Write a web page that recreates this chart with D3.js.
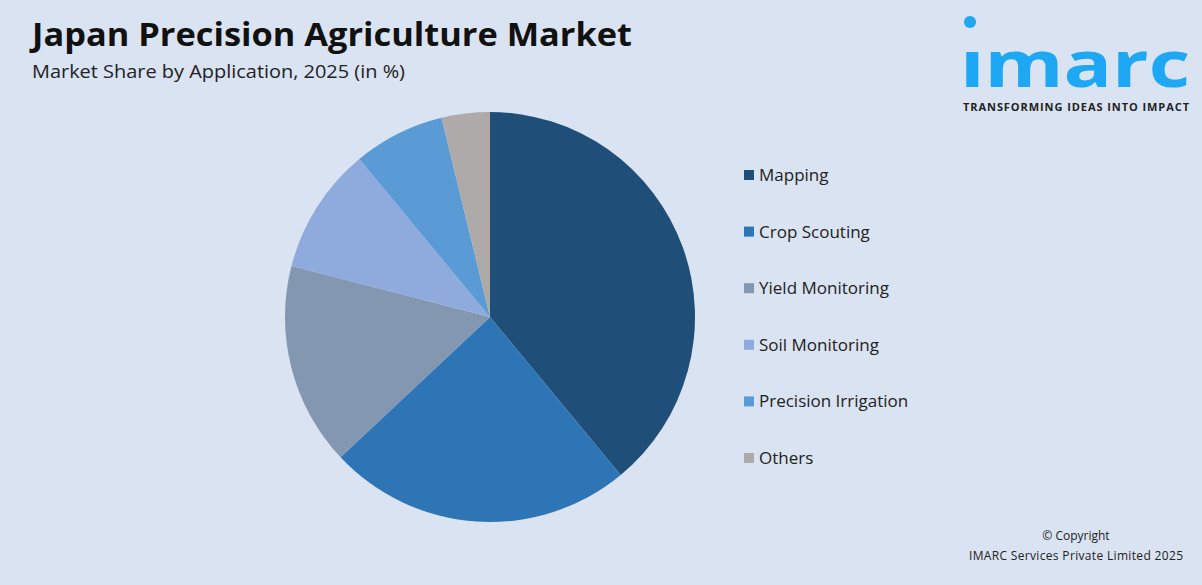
<!DOCTYPE html>
<html><head><meta charset="utf-8">
<script src="https://cdn.jsdelivr.net/npm/d3@7"></script>
<style>body{margin:0;background:#dae3f1;font-family:"Open Sans",sans-serif;}</style>
</head><body>
<script>
var categories = ['Mapping', 'Crop Scouting', 'Yield Monitoring', 'Soil Monitoring', 'Precision Irrigation', 'Others'];
var shares = [39, 24, 16, 10, 7.2, 3.8];
var colors = ['#1f4e79', '#2e75b6', '#8497b0', '#8faadc', '#5b9bd5', '#aeaaaa'];

var svg = d3.select('body').append('svg').attr('width', 1202).attr('height', 585);
svg.append('rect').attr('width', 1202).attr('height', 585).attr('fill', '#dae3f1');

svg.append('text').attr('x', 32).attr('y', 46).style('font-size', '32px').style('font-weight', 'bold')
    .attr('fill', '#111').attr('textLength', 600).attr('lengthAdjust', 'spacingAndGlyphs')
    .text('Japan Precision Agriculture Market');
svg.append('text').attr('x', 32).attr('y', 78).style('font-size', '18px').attr('fill', '#222')
    .attr('textLength', 373).attr('lengthAdjust', 'spacingAndGlyphs')
    .text('Market Share by Application, 2025 (in %)');

// logo
svg.append('circle').attr('cx', 970).attr('cy', 22).attr('r', 6).attr('fill', '#1ea7f2');
svg.append('text').attr('transform', 'translate(960,87) scale(1,1.3)').style('font-size', '50px').style('font-weight', 'bold')
    .attr('fill', '#1ea7f2').attr('textLength', 230)
    .attr('lengthAdjust', 'spacingAndGlyphs').text('ımarc');
svg.append('text').attr('x', 963).attr('y', 111).style('font-size', '11px').style('font-weight', 'bold')
    .attr('fill', '#222').attr('textLength', 226).text('TRANSFORMING IDEAS INTO IMPACT');

var z = d3.scaleOrdinal().domain(categories).range(colors);
var pie = d3.pie().sort(null).value(function (d, i) { return shares[i]; });
var arc = d3.arc().innerRadius(0).outerRadius(205);
var g = svg.append('g').attr('transform', 'translate(490,317)');
g.selectAll('path').data(pie(categories)).enter().append('path')
    .attr('d', arc).attr('fill', function (d) { return z(d.data); });

var legend = svg.append('g').attr('transform', 'translate(744,175)')
    .selectAll('g').data(categories).enter().append('g')
    .attr('transform', function (d, i) { return 'translate(0,' + (i * 56.6) + ')'; });
legend.append('rect').attr('y', -5).attr('width', 10).attr('height', 10).attr('fill', z);
legend.append('text').attr('x', 15).attr('dy', '0.35em').style('font-size', '17px').attr('fill', '#222')
    .text(function (d) { return d; });

svg.append('text').attr('x', 1076).attr('y', 540).attr('text-anchor', 'middle').style('font-size', '12px')
    .attr('fill', '#222').text('© Copyright');
svg.append('text').attr('x', 1076).attr('y', 560).attr('text-anchor', 'middle').style('font-size', '12px')
    .attr('fill', '#222').attr('textLength', 214).text('IMARC Services Private Limited 2025');
</script>
</body></html>
